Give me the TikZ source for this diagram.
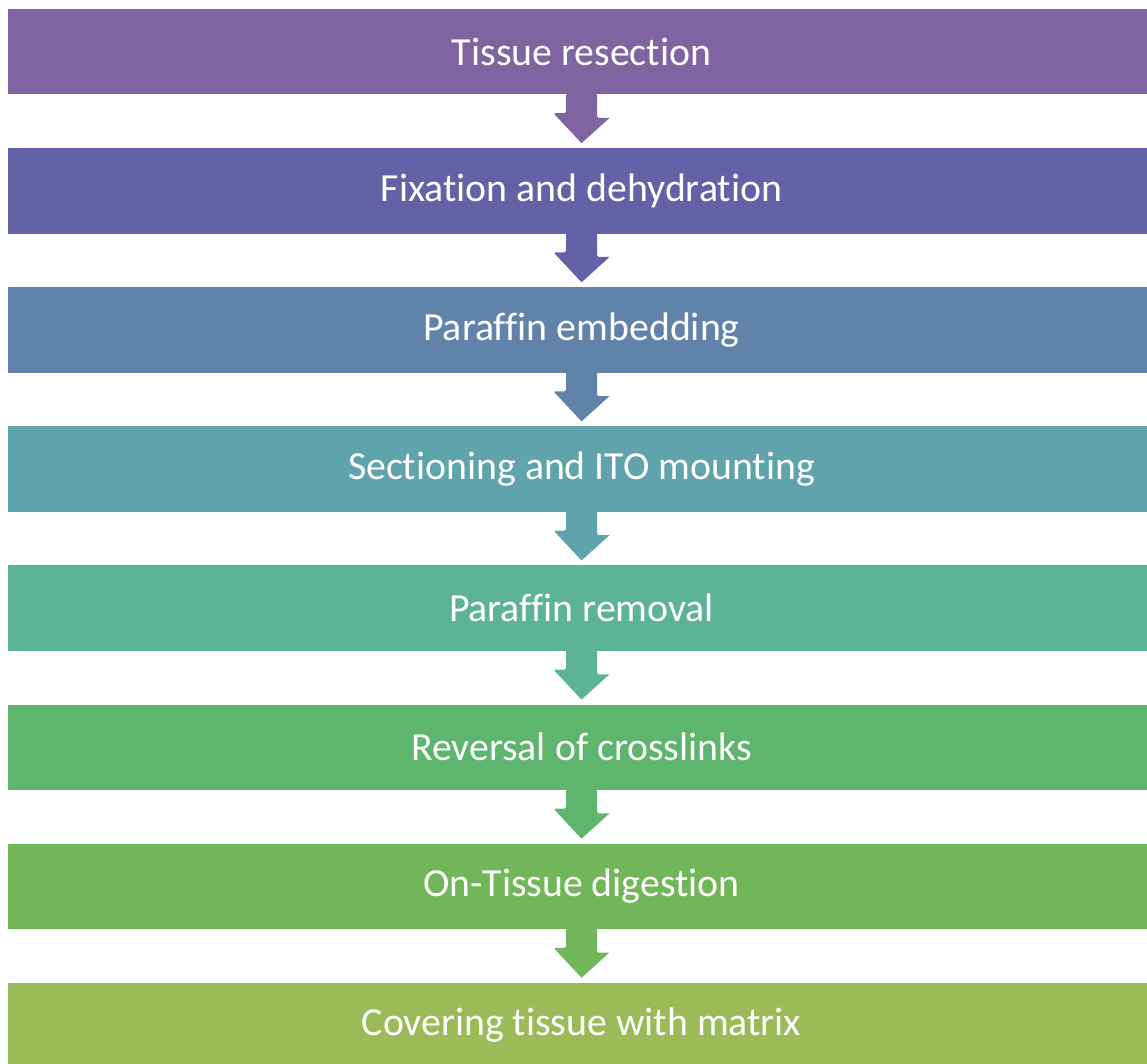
\documentclass[tikz,border=0pt]{standalone}
\usepackage{fontspec}
\setmainfont{Carlito}[Ligatures=CommonOff]
\usetikzlibrary{positioning}

\definecolor{resectC}{HTML}{8064A2}
\definecolor{fixC}{HTML}{6462A7}
\definecolor{embedC}{HTML}{6283A9}
\definecolor{sectC}{HTML}{5FA3AD}
\definecolor{removeC}{HTML}{5DB397}
\definecolor{reverseC}{HTML}{5DB56E}
\definecolor{digestC}{HTML}{72B65A}
\definecolor{matrixC}{HTML}{9BBB59}

\tikzset{
    stage/.style={fill=#1, minimum width=1147pt, minimum height=85.5pt,
        inner sep=0pt, text=white, font=\fontsize{39.8}{44}\selectfont},
    blockarrow/.style={fill=#1, rounded corners=1.5pt}
}

\begin{document}
\begin{tikzpicture}[x=1pt,y=1pt]
    \useasboundingbox (0,0) rectangle (1147,-1064);

    % Stages
    \node[stage=resectC] (s1) at (581.5,-51.75) {Tissue resection};
    \node[stage=fixC, below=53.2pt of s1] (s2) {Fixation and dehydration};
    \node[stage=embedC, below=53.2pt of s2] (s3) {Paraffin embedding};
    \node[stage=sectC, below=53.2pt of s3] (s4) {Sectioning and ITO mounting};
    \node[stage=removeC, below=53.2pt of s4] (s5) {Paraffin removal};
    \node[stage=reverseC, below=53.2pt of s5] (s6) {Reversal of crosslinks};
    \node[stage=digestC, below=53.2pt of s6] (s7) {On-Tissue digestion};
    \node[stage=matrixC, below=53.2pt of s7] (s8) {Covering tissue with matrix};

    % Block arrows between stages
    \foreach \a/\b/\c in {s1/s2/resectC, s2/s3/fixC, s3/s4/embedC, s4/s5/sectC,
                          s5/s6/removeC, s6/s7/reverseC, s7/s8/digestC} {
        \fill[blockarrow=\c] ([xshift=-15.5pt,yshift=1pt]\a.south) -- ++(0,-19.5)
            -- ++(-12.5,0) [sharp corners] -- ([yshift=4.7pt]\b.north)
            -- ([xshift=28pt,yshift=30pt]\b.north) [rounded corners=1.5pt]
            -- ++(-12.5,0) -- ([xshift=15.5pt,yshift=1pt]\a.south) -- cycle;
    }
\end{tikzpicture}
\end{document}
